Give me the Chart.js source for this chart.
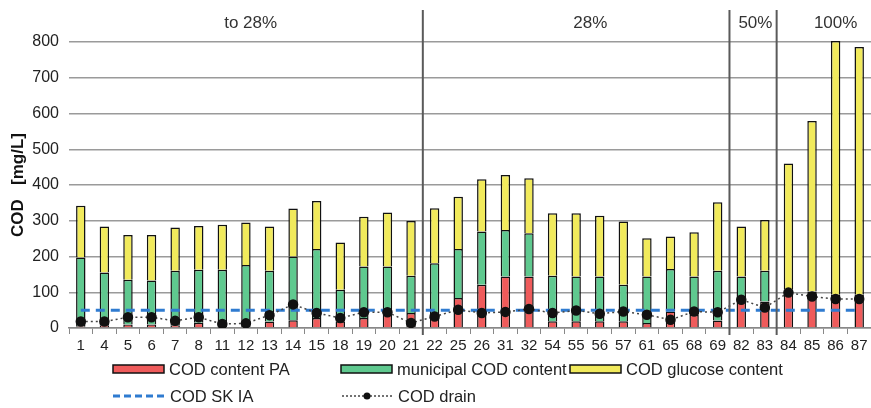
<!DOCTYPE html>
<html>
<head>
<meta charset="utf-8">
<script src="https://cdn.jsdelivr.net/npm/chart.js@4.4.1/dist/chart.umd.min.js"></script>
<style>
html,body{margin:0;padding:0;background:#fff}
#wrap{width:871px;height:408px}
</style>
</head>
<body>
<div id="wrap"><canvas id="cod-chart" width="871" height="408"></canvas></div>
<script>
const samples = ["1","4","5","6","7","8","11","12","13","14","15","18","19","20","21","22","25","26","31","32","54","55","56","57","61","65","68","69","82","83","84","85","86","87"]

// stacked parts of each bar (mg/L)
const codPA        = [5,8,10,10,8,15,3,3,18,22,28,19,28,37,42,32,84,121,144,144,19,19,19,19,14,46,37,21,79,74,107,102,93,93]
const codMunicipal = [192,147,125,123,152,148,160,173,142,178,193,88,144,135,104,149,137,149,130,121,127,125,125,102,130,119,107,139,65,86,0,0,0,0]
const codGlucose   = [145,129,125,127,121,122,126,119,124,134,134,132,139,151,153,154,146,146,154,154,175,177,170,177,107,91,124,192,140,142,353,477,710,693]

const codSKIA  = [50,50,50,50,50,50,50,50,50,50,50,50,50,50,50,50,50,50,50,50,50,50,50,50,50,50,50,50,50,50,50,50,50,50]
const codDrain = [18,18,30,30,20,30,11,13,36,66,42,28,44,44,14,32,51,42,45,53,42,49,40,46,37,23,46,44,79,57,99,88,81,81]

const yTicks = [0,100,200,300,400,500,600,700,800]

// groups of samples: label, first sample, last sample
const groups = [
["to 28%","1","21"],
["28%","22","69"],
["50%","82","83"],
["100%","84","87"]
]
const groupLabelAt = [7.2,21.6,28.6,32.0]

const RED="#ef5b5b", GREEN="#5fc98f", YELLOW="#f1ea5c", BLUE="#2f7bd0"

Chart.defaults.font.family = "'Liberation Sans', Arial, sans-serif"
Chart.defaults.color = "#222"

const groupLines = {
id:"groupLines",
afterDatasetsDraw(chart){
const ctx=chart.ctx, x=chart.scales.x, a=chart.chartArea
ctx.save()
ctx.strokeStyle="#5a5a5a"
ctx.lineWidth=2
groups.forEach((g,i)=>{
if(i==0) return
const idx=samples.indexOf(g[1])
const px=(x.getPixelForValue(idx-1)+x.getPixelForValue(idx))/2
ctx.beginPath()
ctx.moveTo(px,10)
ctx.lineTo(px,a.bottom+7)
ctx.stroke()
})
ctx.fillStyle="#333"
ctx.font="17px 'Liberation Sans', Arial"
ctx.textAlign="center"
ctx.textBaseline="middle"
groups.forEach((g,i)=>{
ctx.fillText(g[0],x.getPixelForValue(groupLabelAt[i]),23)
})
ctx.restore()
}
}

const legendBox = {
id:"legendBox",
afterDraw(chart){
const ctx=chart.ctx
ctx.save()
ctx.font="16.5px 'Liberation Sans', Arial"
ctx.textBaseline="middle"
ctx.fillStyle="#222"
const boxes=[[113,369,RED,"COD content PA"],[341,369,GREEN,"municipal COD content"],[570,369,YELLOW,"COD glucose content"]]
boxes.forEach(b=>{
ctx.fillStyle=b[2]
ctx.fillRect(b[0],b[1]-4,51,8)
ctx.strokeStyle="#111"
ctx.lineWidth=1.5
ctx.strokeRect(b[0],b[1]-4,51,8)
ctx.fillStyle="#222"
ctx.fillText(b[3],b[0]+56,b[1]+1)
})
// SK IA
ctx.strokeStyle=BLUE
ctx.lineWidth=3
ctx.setLineDash([7,4])
ctx.beginPath()
ctx.moveTo(113,396)
ctx.lineTo(166,396)
ctx.stroke()
ctx.fillText("COD SK IA",170,397)
// drain
ctx.strokeStyle="#444"
ctx.lineWidth=1.5
ctx.setLineDash([2,2])
ctx.beginPath()
ctx.moveTo(342,396)
ctx.lineTo(393,396)
ctx.stroke()
ctx.setLineDash([])
ctx.fillStyle="#111"
ctx.beginPath()
ctx.arc(367,396,3.5,0,Math.PI*2)
ctx.fill()
ctx.fillStyle="#222"
ctx.fillText("COD drain",398,397)
ctx.restore()
}
}

new Chart(
document.getElementById("cod-chart"),
{
data:{
labels:samples,
datasets:[
{type:"bar",label:"COD content PA",data:codPA,backgroundColor:RED,borderColor:"#111",borderWidth:1.5,order:2,clip:false},
{type:"bar",label:"municipal COD content",data:codMunicipal,backgroundColor:GREEN,borderColor:"#111",borderWidth:1.5,order:2,clip:false},
{type:"bar",label:"COD glucose content",data:codGlucose,backgroundColor:YELLOW,borderColor:"#111",borderWidth:1.5,order:2,clip:false},
{type:"line",label:"COD SK IA",data:codSKIA,yAxisID:"y2",borderColor:BLUE,borderWidth:3,borderDash:[9,6],pointRadius:0,order:1},
{type:"line",label:"COD drain",data:codDrain,yAxisID:"y2",borderColor:"#444",borderWidth:1.5,borderDash:[2,3],pointRadius:4.5,pointBackgroundColor:"#111",pointBorderColor:"#111",order:0}
]
},
options:{
responsive:false,
animation:false,
barPercentage:0.4,
categoryPercentage:1,
layout:{autoPadding:false,padding:{top:42,right:0,bottom:0,left:0}},
plugins:{legend:{display:false},tooltip:{enabled:false}},
scales:{
x:{
stacked:true,
offset:true,
grid:{drawOnChartArea:false,drawTicks:true,tickLength:6,color:"#888",offset:true},
border:{color:"#888",width:1.5},
ticks:{autoSkip:false,maxRotation:0,minRotation:0,padding:3,color:"#222",font:{size:15,family:"'Liberation Sans Narrow', 'Liberation Sans', Arial"}},
afterFit:s=>{s.height=80}
},
y:{
stacked:true,
min:0,max:800,
afterBuildTicks:s=>{s.ticks=yTicks.map(v=>({value:v}))},
grid:{color:"#9a9a9a",lineWidth:1.5,drawTicks:false},
border:{display:false},
ticks:{padding:10,color:"#222",font:{size:16}},
title:{display:true,text:"COD   [mg/L]",color:"#111",font:{size:17,weight:"bold"},padding:{top:8,bottom:0}},
afterFit:s=>{s.width=69}
},
y2:{
display:false,
min:0,max:800
}
}
},
plugins:[groupLines,legendBox]
}
)
</script>
</body>
</html>
